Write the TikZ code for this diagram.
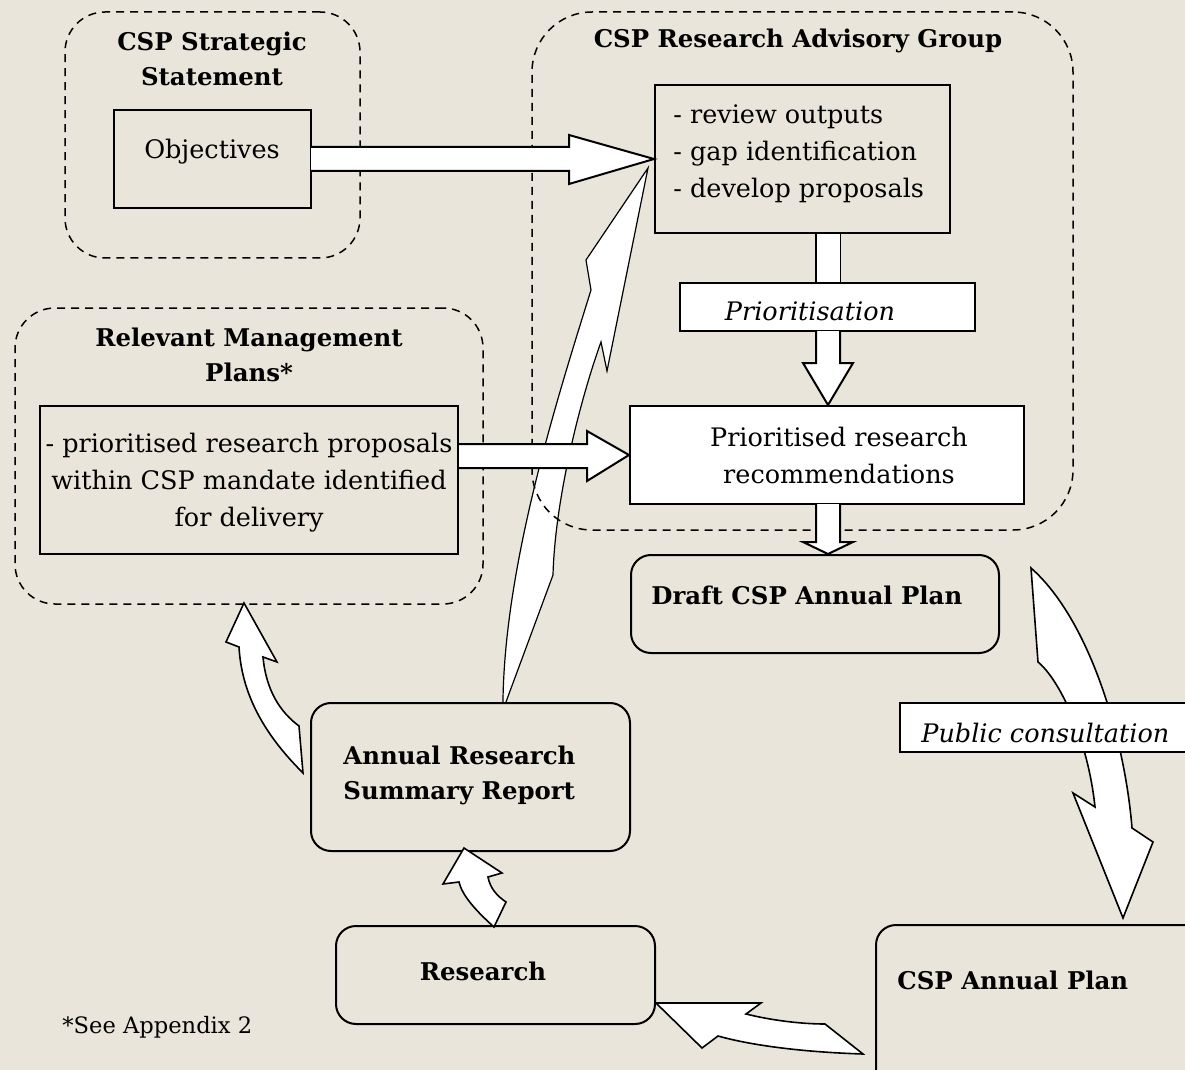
\documentclass[tikz,border=0pt]{standalone}
\usepackage{fontspec}
\setmainfont{DejaVu Serif}
\definecolor{bg}{HTML}{E9E5DA}
\begin{document}
\begin{tikzpicture}[x=0.5pt,y=-0.5pt,
  dbox/.style={draw, line width=0.75pt, dash pattern=on 4pt off 3pt, rounded corners=20pt, inner sep=0pt},
  sbox/.style={draw, line width=1pt, fill=bg, inner sep=0pt},
  wbox/.style={sbox, fill=white},
  rbox/.style={sbox, rounded corners=10pt},
  barrow/.style={draw, fill=white, line width=1pt, line join=miter},
  carrow/.style={draw, fill=white, line width=0.8pt, line join=miter},
  txt/.style={font=\fontsize{12.75}{18.5}\selectfont, inner sep=0pt},
  btxt/.style={inner sep=0pt, font=\fontsize{12.2}{17.5}\selectfont\bfseries},
  itxt/.style={inner sep=0pt, font=\fontsize{12.75}{18.5}\selectfont\itshape},
]
\fill[bg] (0,0) rectangle (1185,1070);
\useasboundingbox (0,0) rectangle (1185,1070);
\clip (0,0) rectangle (1185,1070);

% big curved arrow (behind group outlines)
\draw[carrow, line width=0.6pt] (648,168) -- (586,260) -- (591,290)
  .. controls (560,390) and (505,560) .. (503,700) -- (503,710) -- (553,575)
  .. controls (555,500) and (580,400) .. (601,342) -- (607,371) -- cycle;

% dashed groups
\node[dbox, minimum width=147.5pt, minimum height=123pt] (g1) at (212.5,135) {};
\node[dbox, rounded corners=30pt, minimum width=270.5pt, minimum height=259pt] (g2) at (802.5,271) {};
\node[dbox, minimum width=234pt, minimum height=148pt] (g3) at (249,456) {};

\node[btxt, align=center] (g1t) at (212,58.5) {CSP Strategic\\Statement};
\node[btxt] (g2t) at (798,41) {CSP Research Advisory Group};
\node[btxt, align=center] (g3t) at (249,355) {Relevant Management\\Plans*};

% boxes
\node[sbox, minimum width=98.5pt, minimum height=49pt] (obj) at (212.5,159) {};
\node[txt] (objt) at (212,151.5) {Objectives};

\node[sbox, minimum width=147.5pt, minimum height=74pt] (rev) at (802.5,159) {};
\node[txt, align=left, anchor=west] (revt) at (673,154) {- review outputs\\- gap identification\\- develop proposals};

\node[wbox, minimum width=147.5pt, minimum height=24pt] (prio) at (827.5,307) {};
\node[itxt] (priot) at (810,311) {Prioritisation};

\node[wbox, minimum width=197pt, minimum height=49pt] (rec) at (827,455) {};
\node[txt, align=center] (rect) at (839,455) {Prioritised research\\recommendations};

\node[rbox, minimum width=184pt, minimum height=49pt] (draft) at (815,604) {};
\node[btxt, anchor=west] (draftt) at (651,595) {Draft CSP Annual Plan};

\node[sbox, minimum width=209pt, minimum height=74pt] (rmp) at (249,480) {};
\node[txt, align=center] (rmpt) at (249,483) {- prioritised research proposals\\within CSP mandate identified\\for delivery};

% block arrows between boxes
\draw[barrow] (311,147) -- (569,147) -- (569,135) -- (rev.west) -- (569,184) -- (569,171) -- (311,171);
\draw[barrow] (rmp.east |- 0,444) -- (587,444) -- (587,431) -- (rec.west) -- (587,481) -- (587,468) -- (rmp.east |- 0,468);
\draw[barrow] (816,233) -- (816,283) (840,283) -- (840,233);
\fill[white] (816.5,234) rectangle (839.5,282.5);
\draw[barrow] (816,331) -- (816,363) -- (803,363) -- (rec.north -| 828,0) -- (853,363) -- (840,363) -- (840,331);
\draw[barrow] (816,504) -- (816,542) -- (803,542) -- (draft.north -| 828,0) -- (853,542) -- (840,542) -- (840,504);

% lower boxes
\node[rbox, minimum width=159.5pt, minimum height=74pt] (ars) at (470.5,777) {};
\node[btxt, align=left, anchor=west] (arst) at (343,775.5) {Annual Research\\Summary Report};

\node[rbox, minimum width=159.5pt, minimum height=49pt] (res) at (495.5,975) {};
\node[btxt] (rest) at (483,971) {Research};

\node[rbox, minimum width=167pt, minimum height=82.5pt] (cap) at (1043,1007.5) {};
\node[btxt, anchor=west] (capt) at (897,980) {CSP Annual Plan};

% curved arrows
\draw[carrow] (244,603) -- (277,662) -- (263,657)
  .. controls (266,690) and (280,712) .. (299,726) -- (303,773)
  .. controls (270,740) and (242,700) .. (239,647) -- (226,642) -- cycle;
\draw[carrow] (464,848) -- (502,873) -- (488,877)
  .. controls (490,888) and (497,896) .. (506,902) -- (494,927)
  .. controls (475,910) and (462,895) .. (459,882) -- (443,884) -- cycle;
\draw[carrow] (res.east |- 0,1003) -- (761,1003) -- (746,1014)
  .. controls (770,1020) and (800,1024) .. (825,1024) -- (863,1054)
  .. controls (800,1052) and (750,1045) .. (718,1036) -- (702,1048) -- cycle;
\draw[carrow] (1031,568) -- (1038,662)
  .. controls (1060,680) and (1088,740) .. (1095,807) -- (1073,793) -- (1123,918)
  -- (1153,842) -- (1132,828) .. controls (1125,740) and (1090,620) .. (1031,568) -- cycle;

\node[wbox, minimum width=150pt, minimum height=24.5pt] (pc) at (1050,727.5) {};
\node[itxt, anchor=west] (pct) at (921,733) {Public consultation};

\node[inner sep=0pt, anchor=west, font=\fontsize{11.3}{13}\selectfont] (note) at (62,1027) {*See Appendix 2};
\end{tikzpicture}
\end{document}
